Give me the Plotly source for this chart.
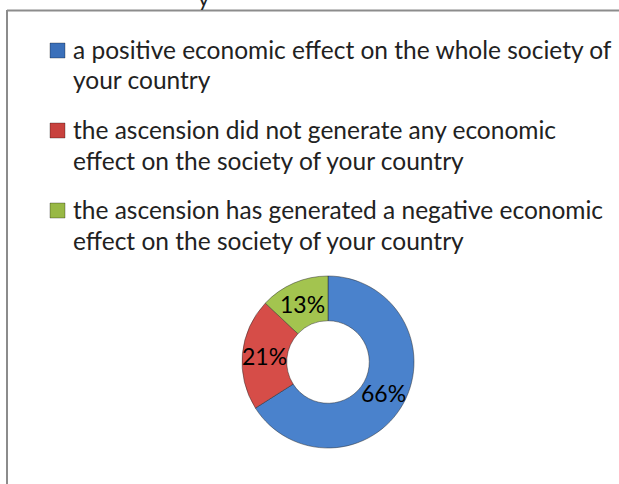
import math
import plotly.graph_objects as go

# data
labels = [
    'a positive economic effect on the whole society of<br>your country',
    'the ascension did not generate any economic<br>effect on the society of your country',
    'the ascension has generated a negative economic<br>effect on the society of your country',
]
shares = [66, 21, 13]
colors = ['#4a82cc', '#d64d48', '#a3c44f']
marker_colors = ['#3b70ba', '#c8423e', '#98b845']

W, H = 619, 484
FONT = 'Lato'


def px(x):
    return x / W


def py(y):
    return 1 - y / H


fig = go.Figure()

# donut
cx, cy, r, hole = 328, 362, 86, 0.48
fig.add_trace(go.Pie(
    values=shares,
    labels=[l.replace('<br>', ' ') for l in labels],
    hole=hole,
    sort=False,
    direction='clockwise',
    rotation=0,
    marker=dict(colors=colors, line=dict(color='rgba(40,40,40,0.6)', width=0.8)),
    textinfo='none',
    domain=dict(x=[px(cx - r), px(cx + r)], y=[py(cy + r), py(cy - r)]),
    showlegend=False,
    hoverinfo='label+percent',
))

annotations = []

# percent labels at the middle of each ring segment
total = sum(shares)
start = 0
rmid = r * (1 + hole) / 2
for v in shares:
    mid = (start + v / 2) / total * 2 * math.pi
    start += v
    annotations.append(dict(
        text=f'{v}%', xref='paper', yref='paper',
        x=px(cx + rmid * math.sin(mid)), y=py(cy - rmid * math.cos(mid)),
        xanchor='center', yanchor='middle', showarrow=False,
        font=dict(family=FONT, size=23, color='black'),
    ))

# legend drawn by hand: square marker + wrapped text
shapes = []
base = 58
for i, (lab, col) in enumerate(zip(labels, marker_colors)):
    b = base + i * 80
    shapes.append(dict(type='rect', xref='paper', yref='paper',
                       x0=px(50), x1=px(65), y0=py(b), y1=py(b - 15),
                       fillcolor=col, line=dict(color='rgba(0,0,0,0.3)', width=1)))
    for j, line in enumerate(lab.split('<br>')):
        annotations.append(dict(
            text=line, xref='paper', yref='paper',
            x=px(71), y=py(b + j * 30.5 + 8), xanchor='left', yanchor='bottom',
            showarrow=False,
            font=dict(family=FONT, size=24.5, color='#222222'),
        ))

# frame (only top and left edges visible)
shapes.append(dict(type='line', xref='paper', yref='paper',
                   x0=px(7), x1=1, y0=py(10.5), y1=py(10.5),
                   line=dict(color='#8c8c8c', width=2)))
shapes.append(dict(type='line', xref='paper', yref='paper',
                   x0=px(7), x1=px(7), y0=py(10), y1=0,
                   line=dict(color='#8c8c8c', width=2)))

# clipped title remnant above the frame
annotations.append(dict(
    text='y', xref='paper', yref='paper', x=px(204), y=py(13),
    xanchor='center', yanchor='bottom', showarrow=False,
    font=dict(family=FONT, size=22, color='#222'),
))

fig.update_layout(
    width=W, height=H,
    margin=dict(l=0, r=0, t=0, b=0),
    paper_bgcolor='white',
    plot_bgcolor='white',
    shapes=shapes,
    annotations=annotations,
)

# drop the default page margin so the figure fills the window
fig.write_html('out.html', config={'displayModeBar': False},
               post_script="document.body.style.margin='0';")
